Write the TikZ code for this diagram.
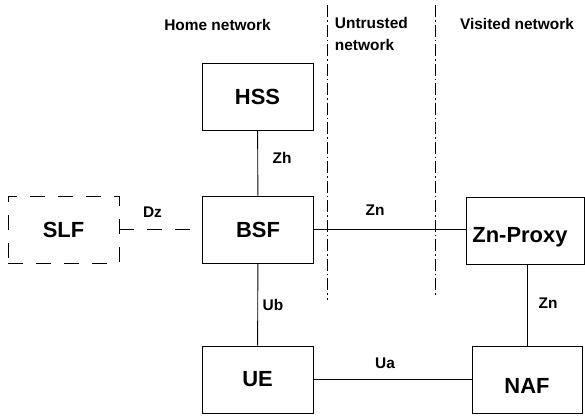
\documentclass[tikz,border=0pt]{standalone}
\usepackage{fontspec}
\setmainfont{Liberation Sans}
\begin{document}
\begin{tikzpicture}[x=1bp,y=-1bp,line width=0.9bp,
  box/.style={draw,rectangle,minimum width=111bp,minimum height=67bp,inner sep=0pt,font=\fontsize{22}{26}\selectfont\bfseries},
  lbl/.style={inner sep=0pt,font=\fontsize{15.5}{22}\selectfont\bfseries},
  dashdot/.style={line width=0.8bp,dash pattern=on 12bp off 3bp on 1.5bp off 3bp},
  longdash/.style={dash pattern=on 15bp off 13bp}]
\useasboundingbox (0,0) rectangle (585,416);
% boxes
\node[box] (hss) at (257.5,97) {HSS};
\node[box] (bsf) at (258,229.5) {BSF};
\node[box,longdash] (slf) at (63.5,229.5) {SLF};
\node[box,minimum width=118bp] (zp) at (525,230.5) {};
\node[box,anchor=west,draw=none,minimum width=0pt,minimum height=0pt] (zpt) at (472,237) {Zn-Proxy};
\node[box] (ue) at (257.5,379.5) {UE};
\node[box,minimum width=110bp] (naf) at (527,379.5) {};
\node[box,draw=none,minimum width=0pt,minimum height=0pt] (naft) at (527,386) {NAF};
% separators
\coordinate (s1t) at (327,5);
\coordinate (s1b) at (327,300);
\coordinate (s2t) at (435,5);
\coordinate (s2b) at (435,296);
\draw[dashdot] (s1t) -- (s1b);
\draw[dashdot] (s2t) -- (s2b);
% region titles
\node[lbl] (home) at (217.5,25) {Home network};
\node[lbl,align=left,anchor=west] (untr) at (334.5,34) {Untrusted\\network};
\node[lbl] (vis) at (517,24) {Visited network};
% connectors
\draw (hss) -- (bsf);
\draw[longdash] (slf.east) -- (bsf.west);
\draw (bsf.east) -- (bsf.east -| zp.west);
\draw (bsf) -- (ue);
\draw (ue.east) -- (ue.east -| naf.west);
\draw (naf.north) -- (naf.north |- zp.south);
% connector labels
\node[lbl] (zh) at (282,158) {Zh};
\node[lbl] (dz) at (152.5,212) {Dz};
\node[lbl] (zn1) at (375,210) {Zn};
\node[lbl] (ub) at (273,305) {Ub};
\node[lbl] (ua) at (385,363) {Ua};
\node[lbl] (zn2) at (548,303) {Zn};
\end{tikzpicture}
\end{document}
